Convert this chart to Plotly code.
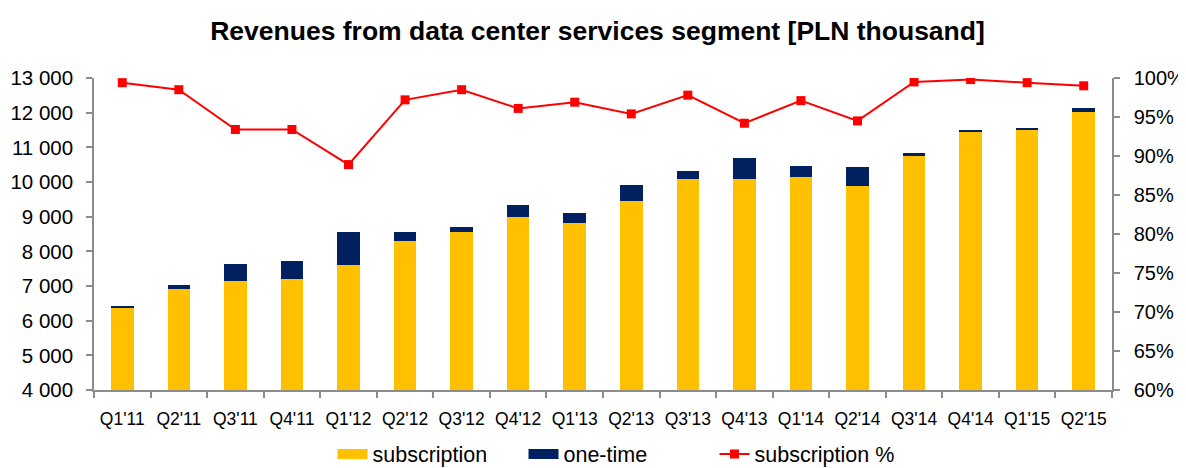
import plotly.graph_objects as go

categories = ["Q1'11", "Q2'11", "Q3'11", "Q4'11", "Q1'12", "Q2'12", "Q3'12", "Q4'12",
              "Q1'13", "Q2'13", "Q3'13", "Q4'13", "Q1'14", "Q2'14", "Q3'14", "Q4'14",
              "Q1'15", "Q2'15"]
subscription = [6370, 6910, 7140, 7205, 7610, 8300, 8570, 8985, 8830, 9465, 10085, 10085,
                10155, 9885, 10770, 11460, 11500, 12015]
one_time = [40, 105, 500, 510, 950, 250, 145, 365, 290, 460, 220, 595,
            300, 555, 55, 30, 68, 126]
subscription_pct = [99.4, 98.5, 93.4, 93.4, 88.9, 97.2, 98.5, 96.1, 96.9, 95.4, 97.8, 94.2,
                    97.1, 94.5, 99.5, 99.8, 99.4, 99.0]

left_ticks = [4000, 5000, 6000, 7000, 8000, 9000, 10000, 11000, 12000, 13000]
left_labels = ["4 000", "5 000", "6 000", "7 000", "8 000", "9 000", "10 000", "11 000",
               "12 000", "13 000"]
right_ticks = [60, 65, 70, 75, 80, 85, 90, 95, 100]
right_labels = ["60%", "65%", "70%", "75%", "80%", "85%", "90%", "95%", "100%"]

FONT = "Arial, Liberation Sans, sans-serif"
AXIS_COLOR = "#8c8c8c"
YELLOW = "#FFC000"
NAVY = "#002060"
RED = "#FF0000"

# the page body adds an 8px margin, so the figure is 8px smaller than the window
W, H = 1178, 460

fig = go.Figure()
fig.add_trace(go.Bar(x=categories, y=subscription, name="subscription", showlegend=False,
                     marker=dict(color=YELLOW, line=dict(width=0))))
fig.add_trace(go.Bar(x=categories, y=one_time, name="one-time", showlegend=False,
                     marker=dict(color=NAVY, line=dict(width=0))))
fig.add_trace(go.Scatter(x=categories, y=subscription_pct, name="subscription %",
                         yaxis="y2", mode="lines+markers", showlegend=False,
                         line=dict(color=RED, width=2),
                         marker=dict(symbol="square", size=9, color=RED)))
# legend entries (wide swatches like the original)
fig.add_trace(go.Scatter(x=[None], y=[None], name="subscription", mode="lines",
                         line=dict(color=YELLOW, width=10)))
fig.add_trace(go.Scatter(x=[None], y=[None], name="one-time", mode="lines",
                         line=dict(color=NAVY, width=10)))
fig.add_trace(go.Scatter(x=[None], y=[None], name="subscription %", mode="lines+markers",
                         line=dict(color=RED, width=2),
                         marker=dict(symbol="square", size=9, color=RED)))

fig.update_layout(
    width=W, height=H, autosize=False,
    barmode="stack", bargap=0.6,
    plot_bgcolor="white", paper_bgcolor="white",
    font=dict(family=FONT, size=18, color="black"),
    margin=dict(l=86, r=74, t=69.5, b=78, pad=0),
    title=dict(text="<b>Revenues from data center services segment [PLN thousand]</b>",
               x=589.5 / W, xanchor="center", y=1 - 23 / H, yanchor="middle",
               yref="container", font=dict(family=FONT, size=26.5, color="black")),
    xaxis=dict(type="category", tickson="boundaries", ticks="outside", ticklen=6,
               tickcolor=AXIS_COLOR, tickwidth=1.5, showline=True, linecolor=AXIS_COLOR,
               linewidth=1.5, showgrid=False, tickfont=dict(size=17.5), tickangle=0,
               ticklabelstandoff=12, automargin=False,
               range=[-0.5, len(categories) - 0.5]),
    yaxis=dict(range=[4000, 13000], tickvals=left_ticks, ticktext=left_labels,
               ticks="outside", ticklen=6, tickcolor=AXIS_COLOR, tickwidth=1.5,
               showline=True, linecolor=AXIS_COLOR, linewidth=1.5, showgrid=False,
               zeroline=False, tickfont=dict(size=20.5), ticklabelstandoff=9,
               automargin=False),
    yaxis2=dict(range=[60, 100], tickvals=right_ticks, ticktext=right_labels,
                overlaying="y", side="right", ticks="outside", ticklen=6,
                tickcolor=AXIS_COLOR, tickwidth=1.5, showline=True, linecolor=AXIS_COLOR,
                linewidth=1.5, showgrid=False, zeroline=False, tickfont=dict(size=20),
                ticklabelstandoff=10, automargin=False),
    legend=dict(orientation="h", x=611 / W, xanchor="center", xref="container",
                y=(H - 446) / H, yanchor="middle", yref="container",
                font=dict(size=21.5), traceorder="normal", entrywidth=146,
                entrywidthmode="pixels", bgcolor="rgba(0,0,0,0)"),
    showlegend=True,
)

fig.write_html("out.html")
